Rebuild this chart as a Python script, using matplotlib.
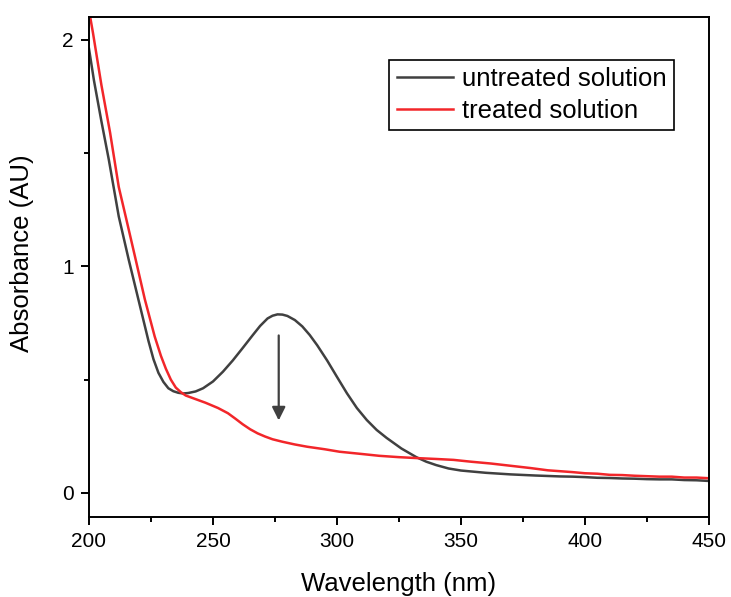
import matplotlib
matplotlib.use("Agg")
import matplotlib.pyplot as plt

plt.rcParams['font.family'] = ['Liberation Sans', 'DejaVu Sans']

# untreated solution
wl_untreated = [200, 202, 205, 208, 212, 216, 220, 224, 226, 228, 230, 232, 234,
                236, 238, 240, 243, 246, 250, 254, 258, 262, 266, 269, 272, 274,
                276, 278, 280, 283, 286, 289, 292, 296, 300, 304, 308, 312, 316,
                320, 326, 332, 336, 340, 345, 350, 360, 370, 380, 385, 390, 395,
                400, 405, 410, 415, 420, 425, 430, 435, 440, 445, 450]
abs_untreated = [1.96, 1.82, 1.64, 1.47, 1.22, 1.03, 0.85, 0.67, 0.59, 0.53, 0.49,
                 0.462, 0.449, 0.442, 0.439, 0.441, 0.448, 0.462, 0.492, 0.535,
                 0.585, 0.64, 0.696, 0.737, 0.77, 0.782, 0.788, 0.787, 0.781,
                 0.763, 0.735, 0.697, 0.652, 0.585, 0.512, 0.44, 0.375, 0.322,
                 0.278, 0.243, 0.196, 0.158, 0.138, 0.123, 0.108, 0.099, 0.089,
                 0.082, 0.077, 0.075, 0.073, 0.072, 0.070, 0.067, 0.066, 0.064,
                 0.063, 0.061, 0.060, 0.060, 0.057, 0.056, 0.053]

# treated solution
wl_treated = [200, 201.6, 205, 208.5, 212, 215, 218.5, 222.5, 226.5, 229, 231,
              233, 235, 237, 239, 242, 247, 252, 256, 259, 262, 265, 268, 271,
              274, 278, 283, 288, 295, 301, 310, 317, 325, 332, 340, 347, 354,
              362, 370, 378, 385, 390, 395, 400, 405, 410, 415, 420, 425, 430,
              435, 440, 445, 450]
abs_treated = [2.13, 2.03, 1.80, 1.59, 1.35, 1.21, 1.045, 0.855, 0.69, 0.605,
               0.548, 0.5, 0.465, 0.445, 0.43, 0.418, 0.398, 0.375, 0.352, 0.328,
               0.303, 0.281, 0.263, 0.249, 0.237, 0.226, 0.214, 0.204, 0.193,
               0.182, 0.172, 0.164, 0.158, 0.154, 0.150, 0.146, 0.138, 0.130,
               0.120, 0.110, 0.100, 0.096, 0.092, 0.087, 0.085, 0.080, 0.079,
               0.076, 0.074, 0.072, 0.072, 0.068, 0.068, 0.065]

# arrow marking the decrease of the 275 nm band
arrow_x = 276.5
arrow_from = 0.695
arrow_to = 0.32

fig = plt.figure(figsize=(7.31, 5.97), dpi=100)
ax = fig.add_axes([89/731, 1-517/597, 620/731, 500/597])

ax.plot(wl_untreated, abs_untreated, color='#404040', lw=1.8, label="untreated solution")
ax.plot(wl_treated, abs_treated, color='#f2262a', lw=1.8, label="treated solution")

ax.annotate("", xy=(arrow_x, arrow_to), xytext=(arrow_x, arrow_from),
            arrowprops=dict(arrowstyle='-|>', color='#404040', lw=1.6,
                            mutation_scale=20, shrinkA=0, shrinkB=0))

ax.set_xlim(200, 450)
ax.set_ylim(-0.106, 2.10)
ax.set_xticks([200, 250, 300, 350, 400, 450])
ax.set_xticks([225, 275, 325, 375, 425], minor=True)
ax.set_yticks([0, 1, 2])
ax.set_yticks([0.5, 1.5], minor=True)

for s in ax.spines.values():
    s.set_linewidth(1.4)
ax.tick_params(which='major', direction='out', length=6, width=1.4, labelsize=15, pad=5)
ax.tick_params(which='minor', direction='out', length=3.6, width=1.4)

ax.set_xlabel("Wavelength (nm)", fontsize=18.5)
ax.set_ylabel("Absorbance (AU)", fontsize=18.5)
ax.xaxis.set_label_coords(0.5, -0.11)
ax.yaxis.set_label_coords(-0.088, 0.528)

leg = ax.legend(loc='upper right', bbox_to_anchor=(0.9435, 0.915), borderaxespad=0,
                fontsize=18.5, fancybox=False, edgecolor='black', framealpha=1,
                handlelength=2.2, handletextpad=0.35, borderpad=0.28, labelspacing=0.33)
leg.get_frame().set_linewidth(1.2)

fig.savefig("out.png", dpi=100)
